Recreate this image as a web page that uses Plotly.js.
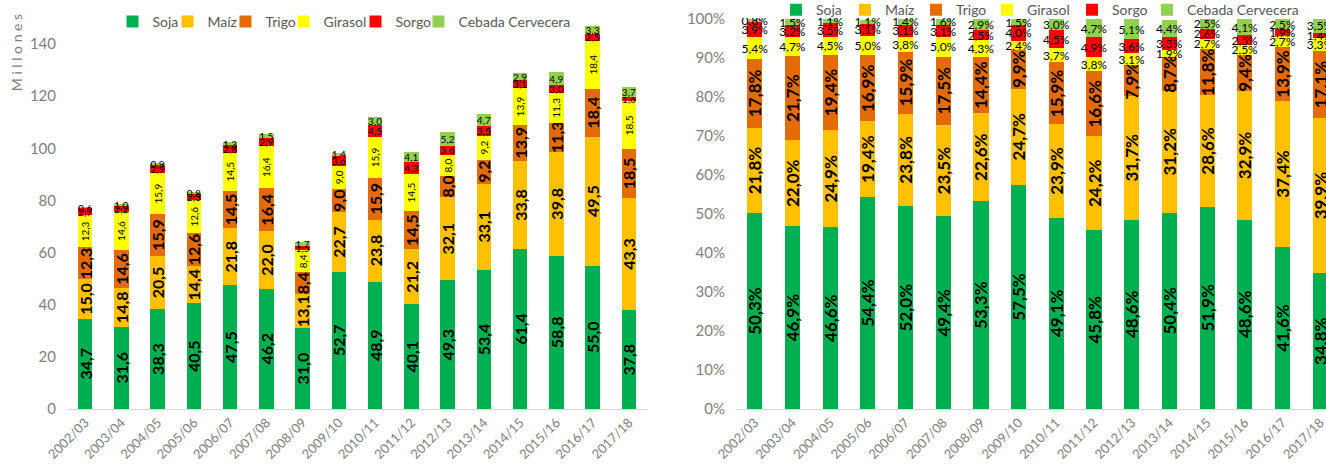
<!DOCTYPE html>
<html>
<head>
<meta charset="utf-8">
<script src="https://cdn.plot.ly/plotly-3.0.1.min.js"></script>
<style>
html,body{margin:0;padding:0;overflow:hidden;background:#fff;}
#chart{width:1345px;height:466px;}
</style>
</head>
<body>
<div id="chart"></div>
<script>
const years = ["2002/03","2003/04","2004/05","2005/06","2006/07","2007/08","2008/09","2009/10","2010/11","2011/12","2012/13","2013/14","2014/15","2015/16","2016/17","2017/18"];
const seriesNames = ["Soja","Maíz","Trigo","Girasol","Sorgo","Cebada Cervecera"];
const seriesColors = ["#00B050","#FFC000","#E36C09","#FFFF00","#FF0000","#92D050"];

// Millones (left chart)
const sojaMill    = [34.7,31.6,38.3,40.5,47.5,46.2,31.0,52.7,48.9,40.1,49.3,53.4,61.4,58.8,55.0,37.8];
const maizMill    = [15.0,14.8,20.5,14.4,21.8,22.0,13.1,22.7,23.8,21.2,32.1,33.1,33.8,39.8,49.5,43.3];
const trigoMill   = [12.3,14.6,15.9,12.6,14.5,16.4,8.4,9.0,15.9,14.5,8.0,9.2,13.9,11.3,18.4,18.5];
const girasolMill = [12.3,14.6,15.9,12.6,14.5,16.4,8.4,9.0,15.9,14.5,8.0,9.2,13.9,11.3,18.4,18.5];
const sorgoMill   = [2.7,2.2,2.9,2.3,2.8,2.9,1.5,3.6,4.5,4.3,3.6,3.5,3.1,3.0,2.5,1.6];
const cebadaMill  = [0.6,1.0,0.9,0.8,1.3,1.5,1.7,1.4,3.0,4.1,5.2,4.7,2.9,4.9,3.3,3.7];

// Porcentajes (right chart)
const sojaPct    = [50.3,46.9,46.6,54.4,52.0,49.4,53.3,57.5,49.1,45.8,48.6,50.4,51.9,48.6,41.6,34.8];
const maizPct    = [21.8,22.0,24.9,19.4,23.8,23.5,22.6,24.7,23.9,24.2,31.7,31.2,28.6,32.9,37.4,39.9];
const trigoPct   = [17.8,21.7,19.4,16.9,15.9,17.5,14.4,9.9,15.9,16.6,7.9,8.7,11.8,9.4,13.9,17.1];
const girasolPct = [5.4,4.7,4.5,5.0,3.8,5.0,4.3,2.4,3.7,3.8,3.1,1.9,2.7,2.5,2.7,3.3];
const sorgoPct   = [3.9,3.2,3.5,3.1,3.1,3.1,2.5,4.0,4.5,4.9,3.6,3.3,2.6,2.5,1.9,1.4];
const cebadaPct  = [0.8,1.5,1.1,1.1,1.4,1.6,2.9,1.5,3.0,4.7,5.1,4.4,2.5,4.1,2.5,3.5];

const leftTicks = [0,20,40,60,80,100,120,140];
const rightTicks = [0,10,20,30,40,50,60,70,80,90,100];

const W = 1345, H = 466;
const px = v => v / W;
const fmt = v => v.toFixed(1).replace('.', ',');
const FONT = 'Lato, "Open Sans", sans-serif';

const millData = [sojaMill, maizMill, trigoMill, girasolMill, sorgoMill, cebadaMill];
const pctData = [sojaPct, maizPct, trigoPct, girasolPct, sorgoPct, cebadaPct];
const legendWidths = [10, 13, 13, 27, 18, 112];
const legendWidths2 = [24, 26, 26, 40, 30, 112];

const leftText = [
  {size:16, weight:'bold', angle:-90},
  {size:16, weight:'bold', angle:-90},
  {size:16, weight:'bold', angle:-90},
  {size:10, weight:'normal', angle:-90},
  {size:10, weight:'normal', angle:0},
  {size:10, weight:'normal', angle:0}
];
const rightText = [
  {size:17, weight:'bold', angle:-90},
  {size:17, weight:'bold', angle:-90},
  {size:17, weight:'bold', angle:-90},
  {size:12, weight:'normal', angle:0},
  {size:12, weight:'normal', angle:0},
  {size:12, weight:'normal', angle:0}
];

const traces = [];
seriesNames.forEach((name, i) => {
  traces.push({
    type:'bar', name:name, x:years, y:millData[i], xaxis:'x', yaxis:'y',
    marker:{color:seriesColors[i]},
    text: millData[i].map(fmt),
    textposition:'inside', insidetextanchor:'middle', constraintext:'none',
    textangle: leftText[i].angle,
    textfont:{family:FONT, size:leftText[i].size, color:'#000', weight:leftText[i].weight},
    hoverinfo:'skip', legend:'legend', legendwidth:legendWidths[i]
  });
});
seriesNames.forEach((name, i) => {
  traces.push({
    type:'bar', name:name, x:years, y:pctData[i], xaxis:'x2', yaxis:'y2',
    marker:{color:seriesColors[i]},
    text: pctData[i].map(v => fmt(v) + '%'),
    textposition:'inside', insidetextanchor:'middle', constraintext:'none',
    textangle: rightText[i].angle,
    textfont:{family:FONT, size:rightText[i].size, color:'#000', weight:rightText[i].weight},
    hoverinfo:'skip', legend:'legend2', legendwidth:legendWidths2[i]
  });
});

const axisTickFont = {family:FONT, size:15, color:'#808080'};
const xTickFont = {family:FONT, size:13, color:'#808080'};
const legendFont = {family:FONT, size:14, color:'#595959'};
const layout = {
  width:W, height:H,
  margin:{l:0, r:0, t:18, b:57, pad:0, autoexpand:false},
  barmode:'stack', bargap:0.6,
  paper_bgcolor:'#fff', plot_bgcolor:'#fff',
  font:{family:FONT, color:'#595959'},
  xaxis:{domain:[px(67), px(647)], anchor:'y', tickangle:-45, tickfont:xTickFont,
         showline:true, linecolor:'#d9d9d9', linewidth:1, ticks:'', showgrid:false},
  yaxis:{domain:[0,1], anchor:'x', range:[0,150], tickvals:leftTicks, ticktext:leftTicks.map(String),
         showgrid:false, zeroline:false, showline:false, tickfont:axisTickFont, ticklabelstandoff:10},
  xaxis2:{domain:[px(736), px(1339)], anchor:'y2', tickangle:-45, tickfont:xTickFont,
         showline:true, linecolor:'#d9d9d9', linewidth:1, ticks:'', showgrid:false},
  yaxis2:{domain:[0,1], anchor:'x2', range:[0,100.3], tickvals:rightTicks, ticktext:rightTicks.map(v => v + '%'),
         showgrid:false, zeroline:false, showline:false, tickfont:axisTickFont, ticklabelstandoff:10},
  legend:{orientation:'h', x:px(344), xanchor:'center', y:0.99, yanchor:'middle', font:legendFont,
          bgcolor:'rgba(0,0,0,0)', itemwidth:30, traceorder:'normal'},
  legend2:{orientation:'h', x:px(1040), xanchor:'center', y:1.02, yanchor:'middle', font:legendFont,
          bgcolor:'rgba(0,0,0,0)', itemwidth:30, traceorder:'normal'},
  annotations:[{text:'M i l l o n e s', xref:'paper', yref:'paper', x:px(16), y:0.91, xanchor:'center', yanchor:'middle',
                textangle:-90, showarrow:false, font:{family:FONT, size:14, color:'#808080'}}]
};

const config = {displayModeBar:false, staticPlot:true};
Plotly.newPlot('chart', traces, layout, config);
</script>
</body>
</html>
